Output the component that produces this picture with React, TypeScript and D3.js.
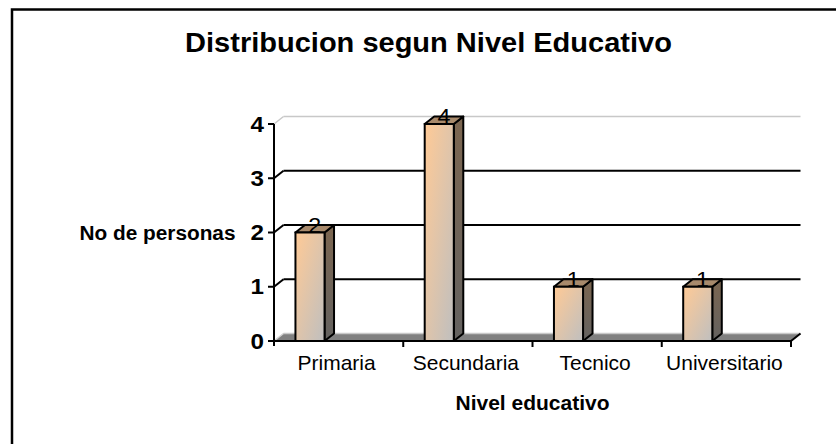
import React, { useEffect, useRef } from 'react';
import * as d3 from 'd3';

const categories = ['Primaria', 'Secundaria', 'Tecnico', 'Universitario'];
const counts = [2, 4, 1, 1];
const yTicks = [0, 1, 2, 3, 4];

const chartTitle = 'Distribucion segun Nivel Educativo';
const xTitle = 'Nivel educativo';
const yTitle = 'No de personas';

const FONT = '"Liberation Sans", Arial, sans-serif';

const App: React.FC = () => {
  const svgRef = useRef<SVGSVGElement>(null);

  useEffect(() => {
    if (!svgRef.current) return;
    const svg = d3.select(svgRef.current);
    svg.selectAll('*').remove();

    // 3D depth offset of the back wall
    const dx = 9.5;
    const dy = -7.5;

    const x = d3.scaleBand<string>().domain(categories).range([274, 791]);
    const y = d3.scaleLinear().domain([0, 4]).range([341, 124]);
    const bw = x.bandwidth();
    const barOff = bw * 0.166;
    const barW = bw * 0.225;

    const defs = svg.append('defs');
    const front = defs.append('linearGradient').attr('id', 'gFront')
      .attr('x1', 0).attr('y1', 0).attr('x2', 1).attr('y2', 1);
    front.append('stop').attr('offset', '0%').attr('stop-color', '#ffca96');
    front.append('stop').attr('offset', '100%').attr('stop-color', '#bfbfbf');
    const side = defs.append('linearGradient').attr('id', 'gSide')
      .attr('x1', 0).attr('y1', 0).attr('x2', 0).attr('y2', 1);
    side.append('stop').attr('offset', '0%').attr('stop-color', '#7c6650');
    side.append('stop').attr('offset', '100%').attr('stop-color', '#646260');

    // outer frame (runs past the right and bottom edge)
    svg.append('rect')
      .attr('x', 12).attr('y', 9.5).attr('width', 900).attr('height', 500)
      .attr('fill', 'white').attr('stroke', 'black').attr('stroke-width', 2.5);

    const [x0, x1] = x.range();
    const y0 = y(0);

    // floor
    svg.append('path')
      .attr('d', `M${x0},${y0}L${x0 + dx},${y0 + dy}L${x1 + dx},${y0 + dy}L${x1},${y0}Z`)
      .attr('fill', '#808080');
    svg.append('line')
      .attr('x1', x0).attr('y1', y0).attr('x2', x0 + dx).attr('y2', y0 + dy)
      .attr('stroke', '#d0d0d0').attr('stroke-width', 1.5);
    svg.append('line')
      .attr('x1', x0 + dx).attr('y1', y0 + dy).attr('x2', x1 + dx).attr('y2', y0 + dy)
      .attr('stroke', '#c8c8c8').attr('stroke-width', 1.5);

    // back wall gridlines + diagonal tick joins
    yTicks.filter(t => t > 0).forEach(t => {
      const top = t === 4;
      const col = top ? '#c8c8c8' : 'black';
      const sw = top ? 1.5 : 2;
      svg.append('line')
        .attr('x1', x0 + dx).attr('x2', x1 + dx)
        .attr('y1', y(t) + dy).attr('y2', y(t) + dy)
        .attr('stroke', col).attr('stroke-width', sw);
      svg.append('line')
        .attr('x1', x0).attr('y1', y(t)).attr('x2', x0 + dx).attr('y2', y(t) + dy)
        .attr('stroke', col).attr('stroke-width', sw);
    });

    // bars
    const bars = svg.append('g').selectAll('g')
      .data(categories.map((c, i) => ({ c, v: counts[i] })))
      .join('g');

    bars.each(function (d) {
      const g = d3.select(this);
      const bx = (x(d.c) ?? 0) + barOff;
      const by = y(d.v);
      const bb = y0;
      g.append('path')
        .attr('d', `M${bx + barW},${by}L${bx + barW + dx},${by + dy}L${bx + barW + dx},${bb + dy}L${bx + barW},${bb}Z`)
        .attr('fill', 'url(#gSide)').attr('stroke', 'black').attr('stroke-width', 2)
        .attr('stroke-linejoin', 'round');
      g.append('path')
        .attr('d', `M${bx},${by}L${bx + dx},${by + dy}L${bx + barW + dx},${by + dy}L${bx + barW},${by}Z`)
        .attr('fill', '#a88a6c').attr('stroke', 'black').attr('stroke-width', 2)
        .attr('stroke-linejoin', 'round');
      g.append('rect')
        .attr('x', bx).attr('y', by).attr('width', barW).attr('height', bb - by)
        .attr('fill', 'url(#gFront)').attr('stroke', 'black').attr('stroke-width', 2);
      g.append('text')
        .attr('transform', `translate(${bx + barW / 2 + dx / 2},${by}) scale(1.06,1)`)
        .attr('text-anchor', 'middle')
        .attr('font-family', FONT).attr('font-size', 22).attr('fill', 'black')
        .text(d.v);
    });

    // axes
    svg.append('line')
      .attr('x1', x0).attr('x2', x0).attr('y1', y(4)).attr('y2', y0 + 5)
      .attr('stroke', 'black').attr('stroke-width', 2);
    svg.append('line')
      .attr('x1', x0 - 1).attr('x2', x1).attr('y1', y0).attr('y2', y0)
      .attr('stroke', 'black').attr('stroke-width', 2);
    svg.append('line')
      .attr('x1', x1).attr('y1', y0).attr('x2', x1 + dx).attr('y2', y0 + dy)
      .attr('stroke', 'black').attr('stroke-width', 2);

    categories.forEach(c => {
      const tx = (x(c) ?? 0) + bw;
      svg.append('line')
        .attr('x1', tx).attr('x2', tx).attr('y1', y0).attr('y2', y0 + 6)
        .attr('stroke', 'black').attr('stroke-width', 2);
      svg.append('text')
        .attr('transform', `translate(${(x(c) ?? 0) + bw / 2 - 2},${y0 + 29}) scale(1.05,1)`)
        .attr('text-anchor', 'middle')
        .attr('font-family', FONT).attr('font-size', 20).attr('fill', 'black')
        .text(c);
    });

    yTicks.forEach(t => {
      svg.append('line')
        .attr('x1', x0 - 6).attr('x2', x0).attr('y1', y(t)).attr('y2', y(t))
        .attr('stroke', 'black').attr('stroke-width', 2);
      svg.append('text')
        .attr('transform', `translate(${x0 - 10},${y(t) + 7.5}) scale(1.1,1)`)
        .attr('text-anchor', 'end')
        .attr('font-family', FONT).attr('font-size', 22).attr('font-weight', 'bold')
        .attr('fill', 'black')
        .text(t);
    });

    // titles
    svg.append('text')
      .attr('transform', `translate(428.5,52) scale(1.075,1)`)
      .attr('text-anchor', 'middle')
      .attr('font-family', FONT).attr('font-size', 27).attr('font-weight', 'bold')
      .text(chartTitle);
    svg.append('text')
      .attr('transform', `translate(${(x0 + x1) / 2},410) scale(1.05,1)`)
      .attr('text-anchor', 'middle')
      .attr('font-family', FONT).attr('font-size', 20).attr('font-weight', 'bold')
      .text(xTitle);
    svg.append('text')
      .attr('transform', `translate(157.5,${(y(0) + y(4)) / 2 + 7}) scale(1.04,1)`)
      .attr('text-anchor', 'middle')
      .attr('font-family', FONT).attr('font-size', 20).attr('font-weight', 'bold')
      .text(yTitle);
  }, []);

  return (
    <svg
      ref={svgRef}
      width={836}
      height={444}
      style={{ position: 'absolute', left: 0, top: 0, display: 'block', background: 'white' }}
    />
  );
};

export default App;
